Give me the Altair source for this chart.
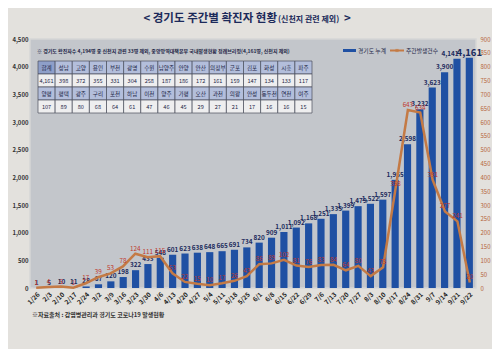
import altair as alt
import pandas as pd

dates = ["1/26","2/3","2/10","2/17","2/24","3/2","3/9","3/16","3/23","3/30",
         "4/6","4/13","4/20","4/27","5/4","5/11","5/18","5/25","6/1","6/8",
         "6/15","6/22","6/29","7/6","7/13","7/20","7/27","8/3","8/10","8/17",
         "8/24","8/31","9/7","9/14","9/21","9/22"]
cumulative = [1,5,10,11,28,67,120,198,322,433,
              548,601,623,638,648,665,691,734,820,909,
              1011,1092,1168,1251,1335,1399,1479,1522,1597,1955,
              2598,3232,3623,3900,4141,4161]
weekly = [1,4,5,1,17,39,53,78,124,111,
          115,53,22,15,10,17,26,43,86,89,
          102,81,76,83,84,64,80,43,75,358,
          643,634,391,277,241,20]

t_head1 = ["합계","성남","고양","용인","부천","광명","수원","남양주","안양","안산","의정부","군포","김포","화성","시흥","파주"]
t_val1 = ["4,161","398","372","355","331","304","258","187","186","172","161","159","147","134","133","117"]
t_head2 = ["양평","평택","광주","구리","포천","하남","이천","양주","가평","오산","과천","의왕","안성","동두천","연천","여주"]
t_val2 = ["107","89","80","68","64","61","47","46","45","29","27","21","17","16","16","15"]

FONT = "Noto Sans CJK KR"

df = pd.DataFrame({"date": dates, "cum": cumulative, "wk": weekly})

xs = alt.Scale(domain=dates, paddingInner=0.42, paddingOuter=0.25)
ys_left = alt.Scale(domain=[0, 4500], nice=False)
ys_right = alt.Scale(domain=[0, 900], nice=False)

x_axis = alt.Axis(labelAngle=315, labelFontSize=6.5, labelFontWeight="bold",
                  labelColor="#222", domain=False, ticks=False, labelPadding=3,
                  labelOverlap=False, labelFont=FONT, title=None, grid=False)
yl_axis = alt.Axis(values=list(range(0, 4501, 500)), format=",d", labelFontSize=6,
                   labelColor="#333", labelFontWeight="bold", grid=False,
                   domain=False, ticks=False, labelPadding=2, labelFont=FONT, title=None)
yr_axis = alt.Axis(orient="right", values=list(range(0, 901, 50)), format="d", labelFontSize=6,
                   labelColor="#b5653a", grid=False, domain=False, ticks=False,
                   labelPadding=4, labelFont=FONT, title=None)

bars = alt.Chart(df).mark_bar(color="#1f50a3").encode(
    x=alt.X("date:N", sort=dates, scale=xs, axis=x_axis, title=None),
    y=alt.Y("cum:Q", scale=ys_left, axis=yl_axis, title=None),
)
bar_labels = alt.Chart(df).transform_filter(alt.datum.date != "9/21").mark_text(
    dy=-5, fontWeight="bold", color="#1b2a5c", font=FONT).encode(
    x=alt.X("date:N", sort=dates, scale=xs, axis=x_axis, title=None),
    y=alt.Y("cum:Q", scale=ys_left, axis=yl_axis, title=None),
    text=alt.Text("cum:Q", format=",d"),
    size=alt.condition(alt.datum.date == "9/22", alt.value(9.5), alt.value(6.4)),
)
bar_label_shift = alt.Chart(df).transform_filter(alt.datum.date == "9/21").mark_text(
    dy=-5, dx=-7, fontSize=6.4, fontWeight="bold", color="#1b2a5c", font=FONT).encode(
    x=alt.X("date:N", sort=dates, scale=xs, axis=x_axis, title=None),
    y=alt.Y("cum:Q", scale=ys_left, axis=yl_axis, title=None),
    text=alt.Text("cum:Q", format=",d"),
)
bar_layer = alt.layer(bars, bar_labels, bar_label_shift)

line = alt.Chart(df).mark_line(color="#c47a45", strokeWidth=2.5).encode(
    x=alt.X("date:N", sort=dates, scale=xs, axis=None),
    y=alt.Y("wk:Q", scale=ys_right, axis=yr_axis, title=None),
)
line_labels = alt.Chart(df).mark_text(dy=-5, fontSize=6.3, color="#c0392b", font=FONT).encode(
    x=alt.X("date:N", sort=dates, scale=xs, axis=None),
    y=alt.Y("wk:Q", scale=ys_right, axis=yr_axis, title=None),
    text="wk:Q",
)
line_layer = alt.layer(line, line_labels)

# table
rows = []
for r, (texts, kind) in enumerate([(t_head1, "h"), (t_val1, "v"), (t_head2, "h"), (t_val2, "v")]):
    for c, t in enumerate(texts):
        if kind == "h":
            fill = "#8e9fc9" if (r == 0 and c == 0) else "#b3bedb"
        else:
            fill = "#eeeeef"
        rows.append({"r": r, "c": c, "t": t, "fill": fill})
tdf = pd.DataFrame(rows)
tx = alt.X("c:O", scale=alt.Scale(range=[8, 282], paddingInner=0, paddingOuter=0), axis=None)
ty = alt.Y("r:O", scale=alt.Scale(range=[22, 74], paddingInner=0, paddingOuter=0), axis=None)
table_rect = alt.Chart(tdf).mark_rect(stroke="#4a4f5c", strokeWidth=0.7).encode(
    x=tx, y=ty, fill=alt.Fill("fill:N", scale=None))
table_text = alt.Chart(tdf).mark_text(color="#1e2748", font=FONT, fontSize=5.6).encode(
    x=tx, y=ty, text="t:N")
table_layer = alt.layer(table_rect, table_text)

def txt(s, x, y, size, color, weight="normal", align="left", baseline="middle"):
    return alt.Chart(pd.DataFrame({"t": [s]})).mark_text(
        fontSize=size, color=color, fontWeight=weight, align=align, baseline=baseline, font=FONT
    ).encode(x=alt.value(x), y=alt.value(y), text="t:N")

title_main = txt("< 경기도 주간별 확진자 현황", 247, -17, 11.5, "#1c2a5a", "bold", "right", "alphabetic")
title_sub = txt("(신천지 관련 제외)", 248, -17, 8, "#1c2a5a", "bold", "left", "alphabetic")
title_end = txt(">", 314, -17, 11.5, "#1c2a5a", "bold", "left", "alphabetic")
note = txt("※ 경기도 확진자수 4,194명 중 신천지 관련 33명 제외, 중앙방역대책본부 국내발생현황 정례브리핑(4,161명, 신천지 제외)",
           7, 12, 5.0, "#1e2748", "bold")
source = txt("※자료출처 : 감염병관리과 경기도 코로나19 발생현황", 2, 276, 6, "#333", "bold")

one = pd.DataFrame({"a": [0]})
leg_bar = alt.Chart(one).mark_rect(color="#1f50a3").encode(
    x=alt.value(313), x2=alt.value(326), y=alt.value(10), y2=alt.value(13))
leg_bar_t = txt("경기도 누계", 328, 11.5, 5.8, "#1e2748")
leg_line = alt.Chart(one).mark_rule(color="#c47a45", strokeWidth=2).encode(
    x=alt.value(360), x2=alt.value(374), y=alt.value(11.5))
leg_pt = alt.Chart(one).mark_point(shape="square", filled=True, color="#c47a45", size=10).encode(
    x=alt.value(367), y=alt.value(11.5))
leg_line_t = txt("주간발생건수", 376, 11.5, 5.8, "#1e2748")

chart = alt.layer(
    bar_layer, line_layer, table_layer,
    title_main, title_sub, title_end, note, source,
    leg_bar, leg_bar_t, leg_line, leg_pt, leg_line_t,
).resolve_scale(x="independent", y="independent").properties(
    width=446, height=249,
    autosize=alt.AutoSizeParams(type="none"),
    padding={"left": 22, "top": 31, "right": 16, "bottom": 61},
    background="#e3e1dd",
).configure_view(fill="#c3c6cb", stroke="#d6d6d6", strokeWidth=1.5)

chart.save("out.html", embed_options={"renderer": "svg", "actions": False})
